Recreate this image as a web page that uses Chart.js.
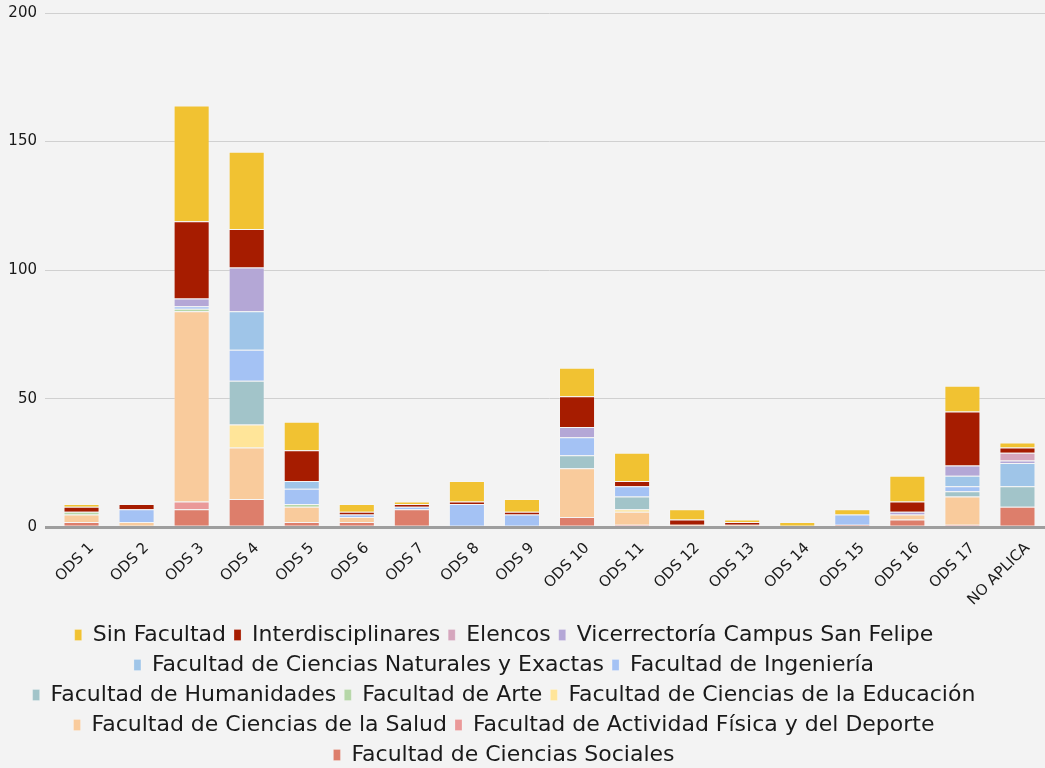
<!DOCTYPE html>
<html>
<head>
<meta charset="utf-8">
<script src="https://cdn.jsdelivr.net/npm/chart.js@4.4.1/dist/chart.umd.min.js"></script>
<style>
html,body{margin:0;padding:0;background:#f3f3f3;}
#wrap{width:1045px;height:768px;position:relative;}
</style>
</head>
<body>
<div id="wrap"><canvas id="c"></canvas></div>
<script>
const categories = ['ODS 1','ODS 2','ODS 3','ODS 4','ODS 5','ODS 6','ODS 7','ODS 8','ODS 9','ODS 10','ODS 11','ODS 12','ODS 13','ODS 14','ODS 15','ODS 16','ODS 17','NO APLICA'];
const yTicks = [0, 50, 100, 150, 200];

const cienciasSociales   = [2,0,7,11,2,2,7,0,0,4,0,0,0,0,1,3,0,8];
const actividadFisica    = [0,0,3,0,0,0,0,0,0,0,1,0,0,0,0,0,1,0];
const cienciasSalud      = [3,2,74,20,6,2,0,0,0,19,5,1,1,0,0,2,11,0];
const cienciasEducacion  = [0,0,0,9,0,0,0,0,0,0,1,0,0,0,0,0,0,0];
const arte               = [1,0,1,0,1,0,0,0,0,0,0,0,0,0,0,0,0,0];
const humanidades        = [0,0,0,17,0,0,0,0,0,5,5,0,0,0,0,0,2,8];
const ingenieria         = [0,5,1,12,6,1,1,9,5,7,4,0,0,0,4,0,2,0];
const cienciasNaturales  = [0,0,0,15,3,0,0,0,0,0,0,0,0,0,0,0,4,9];
const vicerrectoria      = [0,0,3,17,0,0,0,0,0,4,0,0,0,0,0,1,4,1];
const elencos            = [0,0,0,0,0,0,0,0,0,0,0,0,0,0,0,0,0,3];
const interdisciplinares = [2,2,30,15,12,1,1,1,1,12,2,2,1,0,0,4,21,2];
const sinFacultad        = [1,0,45,30,11,3,1,8,5,11,11,4,1,2,2,10,10,2];

const series = [
  ['Facultad de Ciencias Sociales', cienciasSociales, '#dd7e6b'],
  ['Facultad de Actividad Física y del Deporte', actividadFisica, '#ea9999'],
  ['Facultad de Ciencias de la Salud', cienciasSalud, '#f9cb9c'],
  ['Facultad de Ciencias de la Educación', cienciasEducacion, '#ffe599'],
  ['Facultad de Arte', arte, '#b6d7a8'],
  ['Facultad de Humanidades', humanidades, '#a2c4c9'],
  ['Facultad de Ingeniería', ingenieria, '#a4c2f4'],
  ['Facultad de Ciencias Naturales y Exactas', cienciasNaturales, '#9fc5e8'],
  ['Vicerrectoría Campus San Felipe', vicerrectoria, '#b4a7d6'],
  ['Elencos', elencos, '#d5a6bd'],
  ['Interdisciplinares', interdisciplinares, '#a61c00'],
  ['Sin Facultad', sinFacultad, '#f1c232']
];

const datasets = series.map(([label, data, color]) => ({
  label, data,
  backgroundColor: color,
  borderColor: 'rgba(255,255,255,0.22)',
  borderWidth: 1,
  barPercentage: 0.655,
  categoryPercentage: 1.0
}));

Chart.defaults.font.family = 'DejaVu Sans';

const legendShift = {
  id: 'legendShift',
  afterLayout(chart) { if (chart.legend) chart.legend.right -= 45; }
};

new Chart(document.getElementById('c'), {
  type: 'bar',
  data: { labels: categories, datasets },
  plugins: [legendShift],
  options: {
    responsive: true,
    maintainAspectRatio: false,
    animation: false,
    layout: { padding: { left: 8, right: 0, top: 13, bottom: -8 } },
    plugins: {
      tooltip: { enabled: false },
      legend: {
        position: 'bottom',
        reverse: true,
        labels: {
          boxWidth: 7,
          boxHeight: 11,
          padding: 8,
          color: '#1a1a1a',
          font: { family: 'DejaVu Sans', size: 22 }
        }
      }
    },
    scales: {
      x: {
        stacked: true,
        grid: { display: false, drawTicks: false },
        border: { display: false },
        afterFit: (s) => { s.paddingLeft = 0; s.paddingRight = 0; s.height -= 5; },
        ticks: {
          minRotation: 45, maxRotation: 45,
          color: '#1a1a1a',
          padding: 12,
          labelOffset: 10,
          font: { family: 'DejaVu Sans', size: 15 }
        }
      },
      y: {
        stacked: true,
        min: 0, max: 200,
        afterBuildTicks: (axis) => { axis.ticks = yTicks.map(v => ({ value: v })); },
        afterFit: (s) => { s.paddingTop = 0; s.paddingBottom = 0; s.width = 46; },
        grid: {
          color: (ctx) => ctx.tick && ctx.tick.value === 0 ? '#9e9e9e' : '#d0d0d0',
          lineWidth: (ctx) => ctx.tick && ctx.tick.value === 0 ? 3 : 1,
          tickLength: 9,
          drawTicks: true
        },
        border: { display: false },
        ticks: {
          color: '#1a1a1a',
          padding: 8,
          font: { family: 'DejaVu Sans', size: 15 }
        }
      }
    }
  }
});
</script>
</body>
</html>
